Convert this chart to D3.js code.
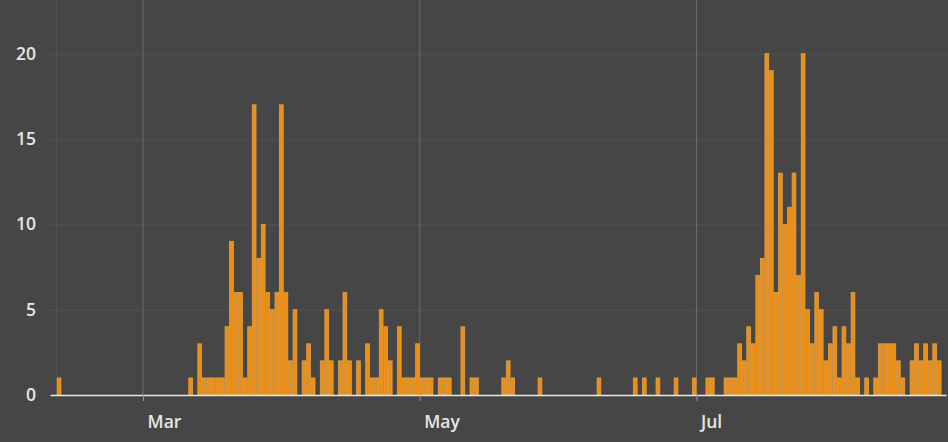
<!DOCTYPE html>
<html>
<head>
<meta charset="utf-8">
<script src="https://cdn.jsdelivr.net/npm/d3@7"></script>
<style>
  html, body { margin: 0; padding: 0; background: #464646; }
  svg { display: block; }
  .tick text { font-family: "Open Sans", sans-serif; font-weight: 600; font-size: 17.5px; fill: #e6e6e6; }
</style>
</head>
<body>
<svg width="948" height="442"></svg>
<script>
// daily counts (days with no bar left out)
const days = [
  "2020-02-11",
  "2020-03-11", "2020-03-13", "2020-03-14", "2020-03-15", "2020-03-16", "2020-03-17", "2020-03-18",
  "2020-03-19", "2020-03-20", "2020-03-21", "2020-03-22", "2020-03-23", "2020-03-24", "2020-03-25",
  "2020-03-26", "2020-03-27", "2020-03-28", "2020-03-29", "2020-03-30", "2020-03-31",
  "2020-04-01", "2020-04-02", "2020-04-03", "2020-04-05", "2020-04-06", "2020-04-07", "2020-04-09",
  "2020-04-10", "2020-04-11", "2020-04-13", "2020-04-14", "2020-04-15", "2020-04-17", "2020-04-19",
  "2020-04-20", "2020-04-21", "2020-04-22", "2020-04-23", "2020-04-24", "2020-04-26", "2020-04-27",
  "2020-04-28", "2020-04-29", "2020-04-30",
  "2020-05-01", "2020-05-02", "2020-05-03", "2020-05-05", "2020-05-06", "2020-05-07", "2020-05-10",
  "2020-05-12", "2020-05-13", "2020-05-19", "2020-05-20", "2020-05-21", "2020-05-27",
  "2020-06-09", "2020-06-17", "2020-06-19", "2020-06-22", "2020-06-26", "2020-06-30",
  "2020-07-03", "2020-07-04", "2020-07-07", "2020-07-08", "2020-07-09", "2020-07-10", "2020-07-11",
  "2020-07-12", "2020-07-13", "2020-07-14", "2020-07-15", "2020-07-16", "2020-07-17", "2020-07-18",
  "2020-07-19", "2020-07-20", "2020-07-21", "2020-07-22", "2020-07-23", "2020-07-24", "2020-07-25",
  "2020-07-26", "2020-07-27", "2020-07-28", "2020-07-29", "2020-07-30", "2020-07-31",
  "2020-08-01", "2020-08-02", "2020-08-03", "2020-08-04", "2020-08-05", "2020-08-07", "2020-08-09",
  "2020-08-10", "2020-08-11", "2020-08-12", "2020-08-13", "2020-08-14", "2020-08-15", "2020-08-17",
  "2020-08-18", "2020-08-19", "2020-08-20", "2020-08-21", "2020-08-22", "2020-08-23"
];
const cases = [
  1,
  1, 3, 1, 1, 1, 1, 1,
  4, 9, 6, 6, 1, 4, 17,
  8, 10, 6, 5, 6, 17,
  6, 2, 5, 2, 3, 1, 2,
  5, 2, 2, 6, 2, 2, 3,
  1, 1, 5, 4, 2, 4, 1,
  1, 1, 3,
  1, 1, 1, 1, 1, 1, 4,
  1, 1, 1, 2, 1, 1,
  1, 1, 1, 1, 1, 1,
  1, 1, 1, 1, 1, 3, 2,
  4, 3, 7, 8, 20, 19, 6,
  13, 10, 11, 13, 7, 20, 5,
  3, 6, 5, 2, 3, 4,
  1, 4, 3, 6, 1, 1, 1,
  3, 3, 3, 3, 2, 1, 2,
  3, 2, 3, 2, 3, 2
];
const yTicks = [0, 5, 10, 15, 20];
const monthTicks = ["2020-03-01", "2020-05-01", "2020-07-01"];
const monthLabels = ["Mar", "May", "Jul"];

const parse = d3.utcParse("%Y-%m-%d");
const data = days.map((d, i) => ({ day: parse(d), value: cases[i] }));

const svg = d3.select("svg");
const width = 948, height = 442;
const margin = { top: 0, right: 2, bottom: 47, left: 50 };

svg.append("rect").attr("width", width).attr("height", height).attr("fill", "#464646");

// x runs from half a day before Feb 10 to the end of Aug 24
const x = d3.scaleUtc()
  .domain([new Date(Date.UTC(2020, 1, 9, 12)), new Date(Date.UTC(2020, 7, 25))])
  .range([margin.left, width - margin.right]);

const y = d3.scaleLinear()
  .domain([0, 20])
  .range([395, 53.6]);

// horizontal grid
svg.append("g")
  .attr("transform", `translate(${margin.left - 5},0)`)
  .call(d3.axisLeft(y).tickValues(yTicks.slice(1)).tickSize(-(width - margin.left + 5)).tickFormat(""))
  .call(g => g.select(".domain").remove())
  .call(g => g.selectAll("line").attr("stroke", "#515151").attr("stroke-width", 1));

// vertical month grid
svg.append("g")
  .selectAll("line")
  .data(monthTicks.map(parse))
  .join("line")
  .attr("x1", d => x(d)).attr("x2", d => x(d))
  .attr("y1", 0).attr("y2", y(0))
  .attr("stroke", "#6a6a6a").attr("stroke-width", 1);

// faint left border of the plot at the first day
svg.append("line")
  .attr("x1", x(data[0].day)).attr("x2", x(data[0].day))
  .attr("y1", 0).attr("y2", y(0))
  .attr("stroke", "#555555");

// bars, one per day
svg.append("g")
  .selectAll("rect")
  .data(data)
  .join("rect")
  .attr("x", d => x(d.day) + 0.4)
  .attr("width", d => x(d3.utcDay.offset(d.day, 1)) - x(d.day) - 0.8)
  .attr("y", d => y(d.value))
  .attr("height", d => y(0) - y(d.value))
  .attr("fill", "#ef8e0e")
  .attr("stroke", "#dca252")
  .attr("stroke-width", 0.8);

// x axis
const xAxis = svg.append("g")
  .attr("transform", `translate(0,${y(0)})`)
  .call(d3.axisBottom(x)
    .tickValues(monthTicks.map(parse))
    .tickFormat((d, i) => monthLabels[i])
    .tickSize(6)
    .tickSizeOuter(0));
xAxis.select(".domain").attr("stroke", "#e8e8e8").attr("stroke-width", 1.5);
xAxis.selectAll(".tick line").attr("stroke", "#9a9a9a");
xAxis.selectAll(".tick text")
  .attr("text-anchor", "start")
  .attr("x", 4)
  .attr("y", 21);

// y axis labels
const yAxis = svg.append("g")
  .attr("transform", "translate(36,0)")
  .call(d3.axisLeft(y).tickValues(yTicks).tickSize(0).tickPadding(0));
yAxis.select(".domain").remove();
</script>
</body>
</html>
